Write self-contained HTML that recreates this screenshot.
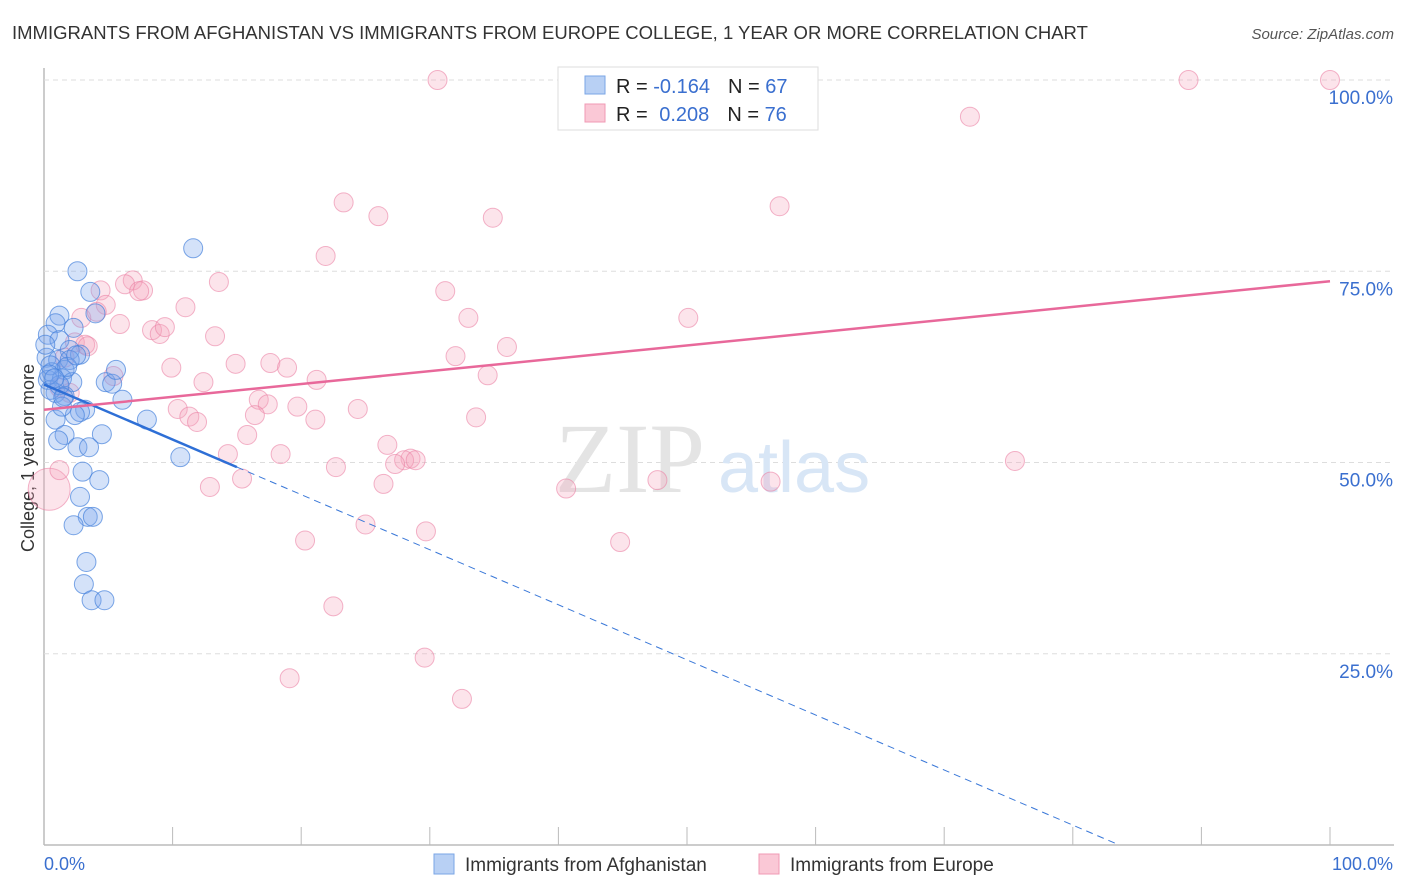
<!DOCTYPE html>
<html><head><meta charset="utf-8"><style>
body{margin:0;background:#fff;font-family:"Liberation Sans",sans-serif;}
#c{position:absolute;left:0;top:0;}
</style></head><body>
<svg id="c" width="1406" height="892" xmlns="http://www.w3.org/2000/svg">
<text x="12" y="39" font-size="18.5" fill="#333">IMMIGRANTS FROM AFGHANISTAN VS IMMIGRANTS FROM EUROPE COLLEGE, 1 YEAR OR MORE CORRELATION CHART</text>
<text x="1394" y="39" font-size="15" fill="#555" font-style="italic" text-anchor="end">Source: ZipAtlas.com</text>
<text x="0" y="0" transform="translate(34,458) rotate(-90)" font-size="18" fill="#333" text-anchor="middle">College, 1 year or more</text>
<g id="grid"></g>
<text x="555" y="492" font-size="100" fill="#e4e4e4" font-family="Liberation Serif,serif">ZIP</text>
<text x="718" y="492" font-size="72" fill="#d8e6f6">atlas</text>
<g id="marks"></g>
<g>
<rect x="558" y="67" width="260" height="63" fill="#fff" stroke="#ddd"/>
<rect x="585" y="76" width="20" height="18" fill="#b8d0f4" stroke="#7aa6e6"/>
<rect x="585" y="104" width="20" height="18" fill="#fac8d6" stroke="#f09ab4"/>
<text x="616" y="93" font-size="20" fill="#222">R = <tspan fill="#3a6fcf">-0.164</tspan><tspan dx="18">N = </tspan><tspan fill="#3a6fcf">67</tspan></text>
<text x="616" y="121" font-size="20" fill="#222">R = <tspan fill="#3a6fcf" dx="6">0.208</tspan><tspan dx="18">N = </tspan><tspan fill="#3a6fcf">76</tspan></text>
</g>
<g>
<rect x="434" y="854" width="20" height="20" fill="#b8d0f4" stroke="#7aa6e6"/>
<text x="465" y="871" font-size="19" fill="#333">Immigrants from Afghanistan</text>
<rect x="759" y="854" width="20" height="20" fill="#fac8d6" stroke="#f09ab4"/>
<text x="790" y="871" font-size="19" fill="#333">Immigrants from Europe</text>
</g>
</svg>
<script>
const yTicks=[25,50,75,100];
const yTickLabels=["25.0%","50.0%","75.0%","100.0%"];
const xTickLabels=["0.0%","100.0%"];
const blueX=[11.6,2.6,3.6,4.0,1.2,2.3,0.9,0.3,1.2,2.0,2.8,0.2,1.1,1.6,0.6,0.3,1.4,2.2,4.8,5.3,5.6,0.9,1.6,6.1,3.2,2.8,0.9,1.6,4.5,8.0,2.6,3.5,10.6,1.1,3.0,4.3,2.8,3.4,3.8,2.3,3.3,3.1,3.7,4.7,0.5,1.2,0.1,2.0,0.5,2.4,1.4,0.4,1.8,2.5,0.8,1.5];
const blueY=[78,75,72.3,69.5,69.2,67.6,68.2,66.7,66.0,64.7,64.1,63.7,63.4,62.1,61.8,60.8,61.0,60.5,60.5,60.3,62.1,59.1,58.7,58.2,56.9,56.6,55.6,53.6,53.7,55.6,52.0,52.0,50.7,52.9,48.8,47.7,45.5,42.9,42.9,41.8,37.0,34.1,32.0,32.0,59.5,60.1,65.4,63.4,62.7,56.2,57.3,61.5,62.5,64.0,61.0,58.5];
const pinkX=[30.6,89.0,100,72.0,23.3,26.0,34.9,57.2,21.9,6.9,13.6,6.3,7.7,7.4,4.4,31.2,11.0,4.8,2.9,4.1,50.1,33.0,5.9,8.4,9.0,9.4,13.3,2.4,3.2,36.0,32.0,14.9,9.9,17.6,18.9,12.4,21.2,34.5,5.4,16.7,17.4,10.4,11.3,11.9,19.7,24.4,21.1,16.4,33.6,15.8,26.7,14.3,18.4,28.5,28.0,28.9,27.3,22.7,75.5,15.4,12.9,26.4,40.6,47.7,56.5,25.0,29.7,20.3,44.8,22.5,29.6,19.1,32.5,1.2,1.6,3.4,0.4,2.0,1.2];
const pinkY=[100,100,100,95.2,84.0,82.2,82.0,83.5,77.0,73.8,73.6,73.3,72.5,72.4,72.5,72.4,70.3,70.6,68.9,69.7,68.9,68.9,68.1,67.3,66.8,67.7,66.5,65.7,65.4,65.1,63.9,62.9,62.4,63.0,62.4,60.5,60.8,61.4,61.3,58.2,57.6,57.0,56.0,55.3,57.3,57.0,55.6,56.2,55.9,53.6,52.3,51.1,51.1,50.5,50.3,50.3,49.8,49.4,50.2,47.9,46.8,47.2,46.6,47.7,47.5,41.9,41.0,39.8,39.6,31.2,24.5,21.8,19.1,59.8,63.7,65.2,46.5,59.1,49.0];
const pinkBig=[0,0,0,0,0,0,0,0,0,0,0,0,0,0,0,0,0,0,0,0,0,0,0,0,0,0,0,0,0,0,0,0,0,0,0,0,0,0,0,0,0,0,0,0,0,0,0,0,0,0,0,0,0,0,0,0,0,0,0,0,0,0,0,0,0,0,0,0,0,0,0,0,0,0,0,0,1,0,0];
const blueTrend=[60.2,49.4];const blueTrendEndX=15;
const pinkTrend=[56.9,73.7];
const X0=44,X1=1330,Y0=845,Y1=80;
const sx=v=>X0+(X1-X0)*v/100, sy=v=>Y0-(Y0-Y1)*v/100;
const NS="http://www.w3.org/2000/svg";
function mk(t,a,p){const e=document.createElementNS(NS,t);for(const k in a)e.setAttribute(k,a[k]);p.appendChild(e);return e;}
const g=document.getElementById('grid'),m=document.getElementById('marks');
let ax=mk('line',{x1:44,y1:68,x2:44,y2:845,stroke:'#bbb','stroke-width':1.5},g);


let bx=mk('line',{x1:44,y1:845,x2:1394,y2:845,stroke:'#bbb','stroke-width':1.5},g);


yTicks.forEach((t,i)=>{
 const l=mk('line',{x1:44,y1:sy(t),x2:1394,y2:sy(t),stroke:'#ddd','stroke-dasharray':'5,4'},g);
 
 
 const tx=mk('text',{x:1393,y:sy(t)+24,'font-size':19,fill:'#3a6fcf','text-anchor':'end'},g);
 tx.textContent=yTickLabels[i];
 
 
});
for(let i=1;i<=10;i++){const l=mk('line',{x1:sx(i*10),y1:827,x2:sx(i*10),y2:845,stroke:'#bbb'},g);
 
 }
[[0,'start',44],[100,'end',1393]].forEach((d,i)=>{const tx=mk('text',{x:d[2],y:870,'font-size':18,fill:'#3a6fcf','text-anchor':d[1]},g);
 tx.textContent=xTickLabels[i];
 
 });
pinkX.forEach((v,i)=>{const c=mk('circle',{cx:sx(v),cy:sy(pinkY[i]),r:pinkBig[i]?21:9.5,fill:'rgba(246,165,190,0.3)',stroke:'rgba(235,130,165,0.6)','stroke-width':1},m);
 
 });
blueX.forEach((v,i)=>{const c=mk('circle',{cx:sx(v),cy:sy(blueY[i]),r:9.5,fill:'rgba(120,165,235,0.32)',stroke:'rgba(70,130,220,0.7)','stroke-width':1},m);
 
 });
const slope=(blueTrend[1]-blueTrend[0])/blueTrendEndX;
const xEnd=-blueTrend[0]/slope;
let d1=mk('line',{x1:sx(blueTrendEndX),y1:sy(blueTrend[1]),x2:sx(xEnd),y2:sy(0),stroke:'#3a78d8','stroke-width':1,'stroke-dasharray':'7,5'},m);


let t1=mk('line',{x1:sx(0),y1:sy(blueTrend[0]),x2:sx(blueTrendEndX),y2:sy(blueTrend[1]),stroke:'#2e6fd6','stroke-width':2.5},m);


let t2=mk('line',{x1:sx(0),y1:sy(pinkTrend[0]),x2:sx(100),y2:sy(pinkTrend[1]),stroke:'#e8689a','stroke-width':2.5},m);


</script>
</body></html>
